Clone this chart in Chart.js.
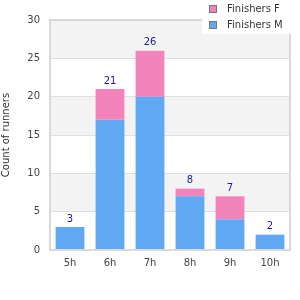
<!DOCTYPE html>
<html>
<head>
<meta charset="utf-8">
<script src="https://cdn.jsdelivr.net/npm/chart.js@4"></script>
<style>
  html, body { margin: 0; padding: 0; background: #fff; }
  #wrap { width: 300px; height: 300px; }
</style>
</head>
<body>
<div id="wrap"><canvas id="chart" width="300" height="300"></canvas></div>
<script>
// ── Data ─────────────────────────────────────────────────
var categories = ['5h', '6h', '7h', '8h', '9h', '10h'];
var finishersM = [3, 17, 20, 7, 4, 2];
var finishersF = [0, 4, 6, 1, 3, 0];
var yTicks     = [0, 5, 10, 15, 20, 25, 30];

var FONT = '"DejaVu Sans", Verdana, sans-serif';
var BLUE = '#61a8f2';
var PINK = '#f283bb';

// ── Alternating bands + plot frame ───────────────────────
var bandsPlugin = {
    id: 'bands',
    beforeDraw: function (chart) {
        var ctx = chart.ctx, a = chart.chartArea, y = chart.scales.y;
        ctx.save();
        for (var i = 0; i < yTicks.length - 1; i++) {
            if (i % 2 === 1) {
                var top = y.getPixelForValue(yTicks[i + 1]);
                var bot = y.getPixelForValue(yTicks[i]);
                ctx.fillStyle = '#f3f3f3';
                ctx.fillRect(a.left, top, a.right - a.left, bot - top);
            }
        }
        ctx.restore();
    },
    afterDatasetsDraw: function (chart) {
        var ctx = chart.ctx, a = chart.chartArea;
        ctx.save();
        ctx.strokeStyle = '#d9d9d9';
        ctx.lineWidth = 2;
        ctx.strokeRect(a.left, a.top, a.right - a.left, a.bottom - a.top);
        ctx.restore();
    }
};

// ── Total labels above stacks ────────────────────────────
var totalsPlugin = {
    id: 'totals',
    afterDatasetsDraw: function (chart) {
        var ctx = chart.ctx, x = chart.scales.x, y = chart.scales.y;
        ctx.save();
        ctx.font = '10px ' + FONT;
        ctx.fillStyle = '#1c1c8a';
        ctx.textAlign = 'center';
        ctx.textBaseline = 'bottom';
        categories.forEach(function (c, i) {
            var total = finishersM[i] + finishersF[i];
            ctx.fillText(String(total), x.getPixelForValue(i), y.getPixelForValue(total) - 3);
        });
        ctx.restore();
    }
};

// ── Legend box, top right ────────────────────────────────
var legendPlugin = {
    id: 'legendBox',
    afterDraw: function (chart) {
        var ctx = chart.ctx;
        var items = [
            { label: 'Finishers F', color: PINK },
            { label: 'Finishers M', color: BLUE }
        ];
        ctx.save();
        ctx.fillStyle = '#fff';
        ctx.fillRect(202, 0, 98, 34);
        ctx.font = '10px ' + FONT;
        ctx.textBaseline = 'middle';
        items.forEach(function (it, i) {
            var yy = 5 + i * 16;
            ctx.fillStyle = it.color;
            ctx.fillRect(209, yy, 8, 8);
            ctx.strokeStyle = '#777';
            ctx.lineWidth = 1;
            ctx.strokeRect(209.5, yy + 0.5, 7, 7);
            ctx.fillStyle = '#333';
            ctx.fillText(it.label, 227, yy + 4);
        });
        ctx.restore();
    }
};

new Chart(document.getElementById('chart'), {
    type: 'bar',
    data: {
        labels: categories,
        datasets: [
            { label: 'Finishers M', data: finishersM, backgroundColor: BLUE,
              barPercentage: 0.72, categoryPercentage: 1 },
            { label: 'Finishers F', data: finishersF, backgroundColor: PINK,
              barPercentage: 0.72, categoryPercentage: 1 }
        ]
    },
    options: {
        responsive: false,
        animation: false,
        layout: { padding: { top: 20, right: 10, left: 0, bottom: 0 } },
        plugins: {
            legend: { display: false },
            tooltip: { enabled: false }
        },
        scales: {
            x: {
                stacked: true,
                grid: { display: false, drawTicks: false },
                border: { display: false },
                ticks: { color: '#444', font: { family: FONT, size: 10 }, padding: 7 },
                afterFit: function (s) { s.height = 50; }
            },
            y: {
                stacked: true,
                min: 0, max: 30,
                afterBuildTicks: function (s) {
                    s.ticks = yTicks.map(function (v) { return { value: v }; });
                },
                grid: { color: '#dedede', lineWidth: 1, drawTicks: false },
                border: { display: false },
                ticks: { color: '#444', font: { family: FONT, size: 10 }, padding: 10 },
                title: { display: true, text: 'Count of runners', color: '#333',
                         font: { family: FONT, size: 10 }, padding: 0 },
                afterFit: function (s) { s.width = 50; }
            }
        }
    },
    plugins: [bandsPlugin, totalsPlugin, legendPlugin]
});
</script>
</body>
</html>
